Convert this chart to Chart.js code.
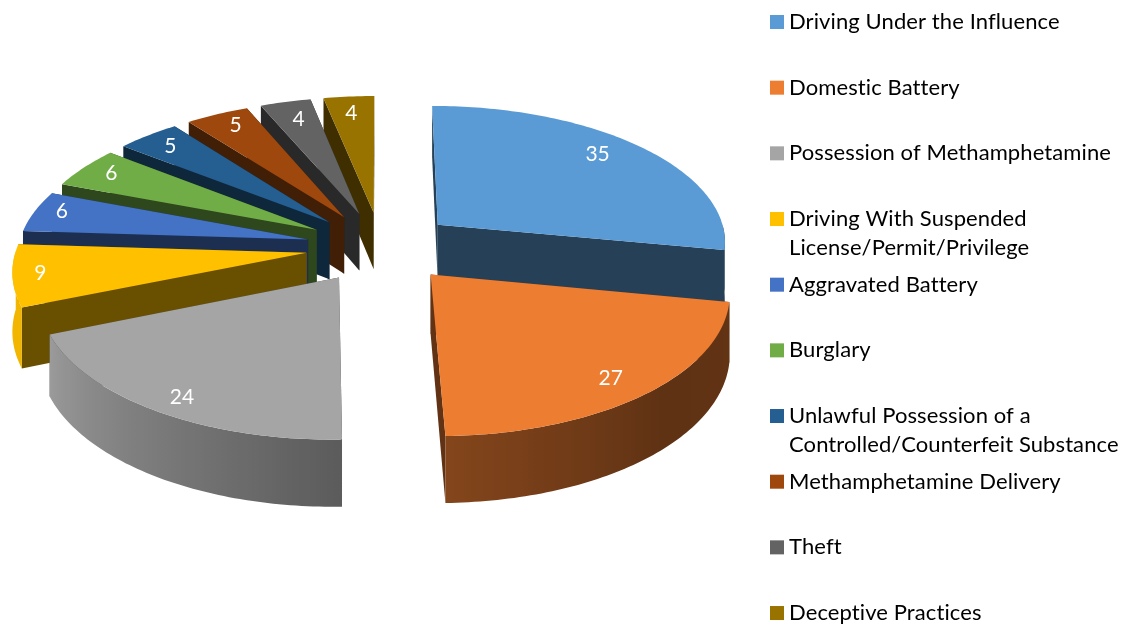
<!DOCTYPE html>
<html>
<head>
<meta charset="utf-8">
<title>Charges</title>
<script src="https://cdn.jsdelivr.net/npm/chart.js@4"></script>
<style>
  html, body { margin: 0; padding: 0; background: #fff; }
  canvas { display: block; }
</style>
</head>
<body>
<canvas id="pie" width="1121" height="624"></canvas>
<script>
// datos
const categories = [
    'Driving Under the Influence',
    'Domestic Battery',
    'Possession of Methamphetamine',
    ['Driving With Suspended', 'License/Permit/Privilege'],
    'Aggravated Battery',
    'Burglary',
    ['Unlawful Possession of a', 'Controlled/Counterfeit Substance'],
    'Methamphetamine Delivery',
    'Theft',
    'Deceptive Practices'
];
const counts = [35, 27, 24, 9, 6, 6, 5, 5, 4, 4];
const sliceColors = ['#5b9bd5', '#ed7d31', '#a5a5a5', '#ffc000', '#4472c4',
                     '#70ad47', '#255e91', '#9e480e', '#636363', '#997300'];

// camara del pastel 3D
const TILT = 0.472;      // aplastamiento vertical
const PERSP = 2600;      // distancia de perspectiva
const DEPTH = 58;        // grosor
const CUT_SHADE = 0.41;  // caras de corte
const LABEL_R = 0.85;
// ajuste fino de cada etiqueta respecto a su posicion calculada
const labelNudgeX = [-13, 0, -3, -17, -13, -6, -3, 1, 3, -1];
const labelNudgeY = [-3, 3, 8, 1, -4, -3, -2, -3, 2, 1];

// luz del borde exterior, grados desde arriba en sentido horario
const rimDeg = [0, 90, 135, 180, 250, 360];
const rimLight = [0.42, 0.42, 0.40, 0.56, 0.95, 0.95];

function rimShade(deg) {
    deg = ((deg % 360) + 360) % 360;
    for (let i = 1; i < rimDeg.length; i++) {
        if (deg <= rimDeg[i]) {
            const f = (deg - rimDeg[i - 1]) / (rimDeg[i] - rimDeg[i - 1]);
            return rimLight[i - 1] + (rimLight[i] - rimLight[i - 1]) * f;
        }
    }
    return rimLight[rimLight.length - 1];
}

function shade(hex, f) {
    const n = parseInt(hex.slice(1), 16);
    const r = Math.round((n >> 16 & 255) * f);
    const g = Math.round((n >> 8 & 255) * f);
    const b = Math.round((n & 255) * f);
    return `rgb(${r},${g},${b})`;
}

// angulo y radio de chart.js a pantalla
function project(arc, angle, radius, drop) {
    const mid = (arc.startAngle + arc.endAngle) / 2;
    const off = arc.options.offset;
    const X = radius * Math.cos(angle) + off * Math.cos(mid);
    const Y = -radius * Math.sin(angle) - off * Math.sin(mid);
    const s = 1 / (1 + Y / PERSP);
    return { x: arc.x + X * s, y: arc.y + (-Y * TILT + drop) * s };
}

function fillPoly(ctx, pts, fill) {
    ctx.beginPath();
    pts.forEach((p, i) => i ? ctx.lineTo(p.x, p.y) : ctx.moveTo(p.x, p.y));
    ctx.closePath();
    ctx.fillStyle = fill;
    ctx.fill();
}

function drawSlice(ctx, arc, color) {
    const R = arc.outerRadius;
    const a0 = arc.startAngle, a1 = arc.endAngle;
    const steps = Math.max(4, Math.ceil((a1 - a0) * 180 / Math.PI));
    const angleAt = i => a0 + (a1 - a0) * i / steps;

    // caras de corte: primero la que queda mas atras
    const faces = [a0, a1].map(a => [project(arc, a, 0, 0), project(arc, a, R, 0),
                                     project(arc, a, R, DEPTH), project(arc, a, 0, DEPTH)]);
    const meanY = f => f.reduce((sum, p) => sum + p.y, 0) / f.length;
    faces.sort((f, g) => meanY(f) - meanY(g));
    faces.forEach(f => fillPoly(ctx, f, shade(color, CUT_SHADE)));

    // borde exterior, solo la parte que mira al frente
    const rim = [];
    for (let i = 0; i <= steps; i++) {
        if (Math.sin(angleAt(i)) > -0.02) rim.push(angleAt(i));
    }
    if (rim.length > 1) {
        const upper = rim.map(a => project(arc, a, R, 0));
        const lower = rim.map(a => project(arc, a, R, DEPTH)).reverse();
        const x0 = upper[0].x, x1 = upper[upper.length - 1].x;
        const grad = ctx.createLinearGradient(x0, 0, x1, 0);
        rim.forEach((a, i) => {
            const t = Math.abs(x1 - x0) < 1 ? i / (rim.length - 1) : (upper[i].x - x0) / (x1 - x0);
            grad.addColorStop(Math.min(1, Math.max(0, t)), shade(color, rimShade(a * 180 / Math.PI + 90)));
        });
        fillPoly(ctx, upper.concat(lower), grad);
    }

    // cara superior
    const top = [project(arc, a0, 0, 0)];
    for (let i = 0; i <= steps; i++) top.push(project(arc, angleAt(i), R, 0));
    fillPoly(ctx, top, color);
}

const pie3d = {
    id: 'pie3d',
    beforeDatasetsDraw(chart) {
        const ctx = chart.ctx;
        const arcs = chart.getDatasetMeta(0).data;
        // de atras hacia adelante
        const order = arcs.map((arc, i) => i).sort((i, j) => {
            const mi = (arcs[i].startAngle + arcs[i].endAngle) / 2;
            const mj = (arcs[j].startAngle + arcs[j].endAngle) / 2;
            return Math.sin(mi) - Math.sin(mj);
        });
        order.forEach(i => drawSlice(ctx, arcs[i], sliceColors[i]));

        // valores
        ctx.font = '21px Lato';
        ctx.fillStyle = '#ffffff';
        ctx.textAlign = 'center';
        ctx.textBaseline = 'middle';
        arcs.forEach((arc, i) => {
            const mid = (arc.startAngle + arc.endAngle) / 2;
            const p = project(arc, mid, arc.outerRadius * LABEL_R, 0);
            ctx.fillText(String(counts[i]), p.x + labelNudgeX[i], p.y + labelNudgeY[i]);
        });
        return false;
    }
};

// leyenda con rejilla fija, como la original
const LEGEND_X = 770, LEGEND_Y = 22, LEGEND_STEP = 65.67, BOX = 14, LINE_H = 29;
const sideLegend = {
    id: 'sideLegend',
    afterDraw(chart) {
        const ctx = chart.ctx;
        ctx.font = '22px Lato';
        ctx.letterSpacing = '0.1px'; // evita las ligaduras de Lato
        ctx.textAlign = 'left';
        ctx.textBaseline = 'middle';
        categories.forEach((label, i) => {
            const y = LEGEND_Y + i * LEGEND_STEP;
            ctx.fillStyle = sliceColors[i];
            ctx.fillRect(LEGEND_X, y - BOX / 2, BOX, BOX);
            ctx.fillStyle = '#000000';
            [].concat(label).forEach((line, k) => {
                ctx.fillText(line, LEGEND_X + 19, y + k * LINE_H);
            });
        });
        ctx.letterSpacing = '0px';
    }
};

new Chart(document.getElementById('pie'), {
    type: 'pie',
    data: {
        labels: categories,
        datasets: [{
            data: counts,
            backgroundColor: sliceColors,
            borderWidth: 0,
            offset: 75
        }]
    },
    options: {
        responsive: false,
        animation: false,
        radius: 290,
        layout: { padding: { left: 0, top: 0, right: 359, bottom: 130 } },
        plugins: {
            legend: { display: false },
            tooltip: { enabled: false }
        }
    },
    plugins: [pie3d, sideLegend]
});
</script>
</body>
</html>
